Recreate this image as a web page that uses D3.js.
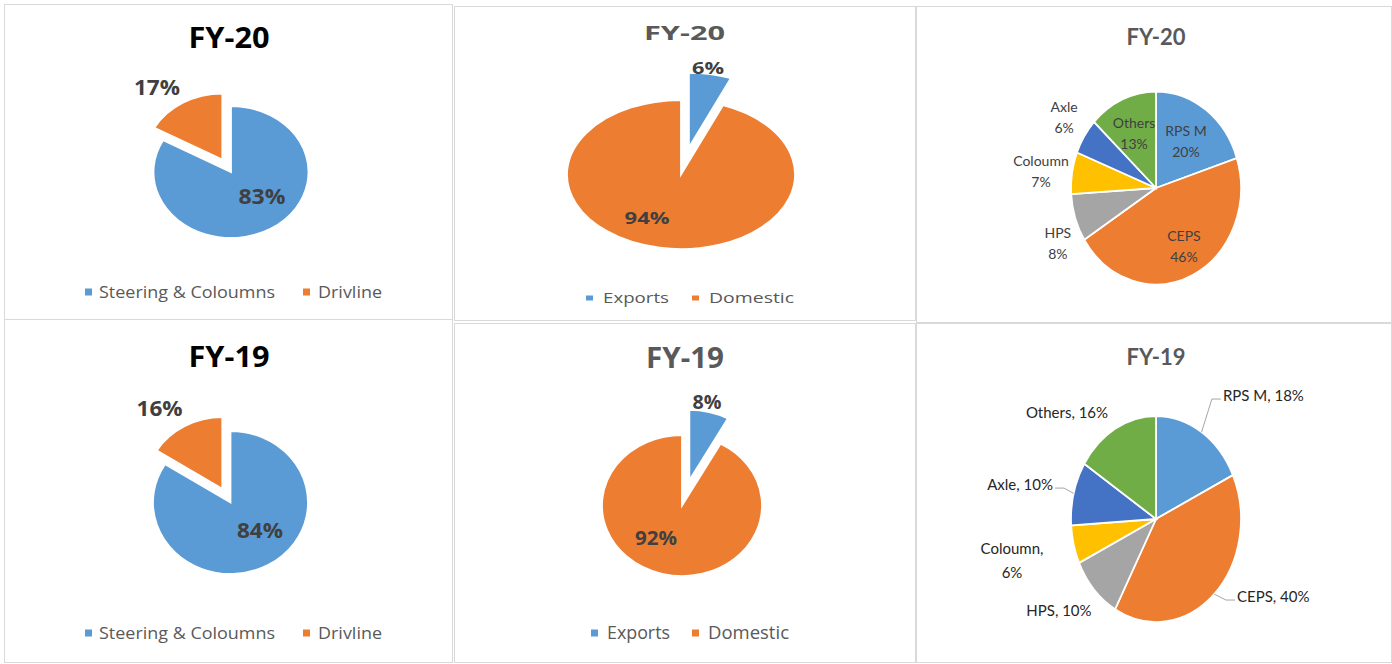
<!DOCTYPE html>
<html><head><meta charset="utf-8">
<script src="https://cdn.jsdelivr.net/npm/d3@7"></script>
<style>body{margin:0;background:#fff}</style>
</head><body>
<svg id="c" width="1392" height="664"></svg>
<script>
// ---------- DATA ----------
const titles = ["FY-20", "FY-19"];
const segmentCats = ["Steering & Coloumns", "Drivline"];
const segmentFY20 = [83, 17];
const segmentFY19 = [84, 16];
const marketCats = ["Exports", "Domestic"];
const marketFY20 = [6, 94];
const marketFY19 = [8, 92];
const productCats = ["RPS M", "CEPS", "HPS", "Coloumn", "Axle", "Others"];
const productFY20 = [20, 46, 8, 7, 6, 13];
const productFY19 = [18, 40, 10, 6, 10, 16];

// ---------- STYLE / LAYOUT ----------
const BLUE = "#5B9BD5", ORANGE = "#ED7D31", GRAY = "#A5A5A5", YELLOW = "#FFC000", DBLUE = "#4472C4", GREEN = "#70AD47";
const twoColors = [BLUE, ORANGE];
const sixColors = [BLUE, ORANGE, GRAY, YELLOW, DBLUE, GREEN];
const WIDE = "'Open Sans', 'DejaVu Sans', sans-serif";
const NARROW = "Lato, 'Liberation Sans', sans-serif";

const panels = [
  { box: [4, 4, 452, 319], title: titles[0], tx: 229, ty: 48, tsize: 28, tw: 81, tcolor: "#000", tfont: WIDE,
    cats: segmentCats, vals: segmentFY20, colors: twoColors, cx: 231, cy: 172, rx: 77.5, ry: 66, explode: [1], ef: 0.22,
    lfont: WIDE, lsize: 21, lweight: "bold", lcolor: "#404040", fmt: "pct",
    labels: [{ a: 133.5, r: 0.551, w: 47 }, { a: 323.1, r: 1.59, w: 46 }],
    legend: { y: 292, size: 17, sq: [7, 7], items: [{ sx: 85, tx: 99, tw: 176 }, { sx: 303, tx: 318, tw: 64 }] } },
  { box: [454, 6, 915, 320], title: titles[0], tx: 684.5, ty: 40, tsize: 20, tw: 81, tcolor: "#595959", tfont: WIDE,
    cats: marketCats, vals: marketFY20, colors: twoColors, cx: 681, cy: 174.5, rx: 114, ry: 74.5, explode: [0], ef: 0.37,
    lfont: WIDE, lsize: 16.5, lweight: "bold", lcolor: "#404040", fmt: "pct",
    labels: [{ a: 9.4, r: 1.45, w: 32 }, { a: 207, r: 0.656, w: 45 }],
    legend: { y: 298, size: 15, sq: [7, 5], items: [{ sx: 586, tx: 603, tw: 66 }, { sx: 692, tx: 709, tw: 85 }] } },
  { box: [916, 6, 1391, 322], title: titles[0], tx: 1156, ty: 45, tsize: 22, tcolor: "#595959", tfont: NARROW,
    cats: productCats, vals: productFY20, colors: sixColors, cx: 1156, cy: 188, rx: 85, ry: 96.5, explode: [], ef: 0,
    lfont: NARROW, lsize: 14, lweight: "normal", lcolor: "#404040", fmt: "two", gap: 21,
    labels: [{ a: 36.2, r: 0.597 }, { a: 151.5, r: 0.69 }, { a: 243.5, r: 1.29 }, { a: 277.2, r: 1.364 }, { a: 304.1, r: 1.306 }, { a: 335.2, r: 0.617 }] },
  { box: [4, 319, 452, 662], title: titles[1], tx: 229, ty: 367, tsize: 28, tw: 81, tcolor: "#000", tfont: WIDE,
    cats: segmentCats, vals: segmentFY19, colors: twoColors, cx: 230.5, cy: 502.5, rx: 77.5, ry: 71.5, explode: [1], ef: 0.22,
    lfont: WIDE, lsize: 21, lweight: "bold", lcolor: "#404040", fmt: "pct",
    labels: [{ a: 136.5, r: 0.552, w: 46 }, { a: 325.1, r: 1.60, w: 46 }],
    legend: { y: 633, size: 17, sq: [7, 7], items: [{ sx: 85, tx: 99, tw: 176 }, { sx: 303, tx: 318, tw: 64 }] } },
  { box: [454, 323, 915, 662], title: titles[1], tx: 685, ty: 368, tsize: 28, tw: 78, tcolor: "#595959", tfont: WIDE,
    cats: marketCats, vals: marketFY19, colors: twoColors, cx: 682, cy: 505.5, rx: 80, ry: 70.5, explode: [0], ef: 0.37,
    lfont: WIDE, lsize: 19, lweight: "bold", lcolor: "#404040", fmt: "pct",
    labels: [{ a: 12, r: 1.50, w: 29 }, { a: 215.2, r: 0.564, w: 42 }],
    legend: { y: 633, size: 18, sq: [7, 7], items: [{ sx: 591, tx: 607, tw: 63 }, { sx: 692, tx: 708, tw: 81 }] } },
  { box: [916, 323, 1391, 662], title: titles[1], tx: 1156, ty: 365, tsize: 22, tcolor: "#595959", tfont: NARROW,
    cats: productCats, vals: productFY19, colors: sixColors, cx: 1156, cy: 519, rx: 85, ry: 103, explode: [], ef: 0,
    lfont: NARROW, lsize: 15, lweight: "normal", lcolor: "#262626", fmt: "comma", gap: 24,
    labels: [{ a: 33.4, r: 1.43, anchor: "start", leader: true },
             { a: 128.5, r: 1.217, anchor: "start", leader: true },
             { a: 232, r: 1.449 },
             { a: 256.5, r: 1.742, wrap: true },
             { a: 285.2, r: 1.256, anchor: "end", leader: true },
             { a: 314.5, r: 1.468 }] }
];

const svg = d3.select("#c");
const R = 100;
const arcGen = d3.arc().innerRadius(0).outerRadius(R);
const pieGen = d3.pie().sort(null).value(d => d);
const rad = a => a * Math.PI / 180;

panels.forEach(p => {
  const g = svg.append("g");
  const [x0, y0, x1, y1] = p.box;
  g.append("rect").attr("x", x0 + 0.5).attr("y", y0 + 0.5).attr("width", x1 - x0).attr("height", y1 - y0)
    .attr("fill", "#fff").attr("stroke", "#D9D9D9").attr("stroke-width", 1);

  // title
  const t = g.append("text").attr("x", p.tx).attr("y", p.ty).attr("text-anchor", "middle")
    .attr("font-family", p.tfont).attr("font-size", p.tsize).attr("font-weight", "bold")
    .attr("fill", p.tcolor).text(p.title);
  if (p.tw) t.attr("textLength", p.tw).attr("lengthAdjust", "spacingAndGlyphs");

  // pie
  const arcs = pieGen(p.vals);
  const pg = g.append("g").attr("transform", `translate(${p.cx},${p.cy}) scale(${p.rx / R},${p.ry / R})`);
  pg.selectAll("path").data(arcs).join("path")
    .attr("d", arcGen)
    .attr("fill", (d, i) => p.colors[i])
    .attr("stroke", "#fff").attr("stroke-width", 1.8).attr("vector-effect", "non-scaling-stroke")
    .attr("transform", (d, i) => {
      if (!p.explode.includes(i)) return null;
      const m = (d.startAngle + d.endAngle) / 2;
      return `translate(${Math.sin(m) * p.ef * R},${-Math.cos(m) * p.ef * R})`;
    });

  const pos = (a, r) => [p.cx + Math.sin(rad(a)) * r * p.rx, p.cy - Math.cos(rad(a)) * r * p.ry];

  // labels
  arcs.forEach((d, i) => {
    const L = p.labels[i];
    const [lx, ly] = pos(L.a, L.r);
    const pct = p.vals[i] + "%";
    let lines;
    if (p.fmt === "pct") lines = [pct];
    else if (p.fmt === "two") lines = [p.cats[i], pct];
    else lines = L.wrap ? [p.cats[i] + ",", pct] : [p.cats[i] + ", " + pct];
    const anchor = L.anchor || "middle";
    const gap = p.gap || 0;
    lines.forEach((s, k) => {
      const off = (k - (lines.length - 1) / 2) * gap;
      const tt = g.append("text").attr("x", lx).attr("y", ly + off + 0.35 * p.lsize)
        .attr("text-anchor", anchor).attr("font-family", p.lfont).attr("font-size", p.lsize)
        .attr("font-weight", p.lweight).attr("fill", p.lcolor).text(s);
      if (L.w) tt.attr("textLength", L.w).attr("lengthAdjust", "spacingAndGlyphs");
    });
    if (L.leader) {
      const m = (d.startAngle + d.endAngle) / 2;
      const ex = p.cx + Math.sin(m) * p.rx, ey = p.cy - Math.cos(m) * p.ry;
      const dir = anchor === "start" ? -1 : 1;
      const ly2 = ly + 3;
      g.append("path")
        .attr("d", d3.line()([[ex, ey], [lx + dir * 11, ly2], [lx + dir * 2, ly2]]))
        .attr("fill", "none").attr("stroke", "#A6A6A6").attr("stroke-width", 1);
    }
  });

  // legend
  if (p.legend) {
    const lg = p.legend;
    lg.items.forEach((it, i) => {
      g.append("rect").attr("x", it.sx).attr("y", lg.y - lg.sq[1] / 2).attr("width", lg.sq[0]).attr("height", lg.sq[1])
        .attr("fill", p.colors[i]);
      g.append("text").attr("x", it.tx).attr("y", lg.y + 0.36 * lg.size)
        .attr("font-family", WIDE).attr("font-size", lg.size).attr("fill", "#595959")
        .attr("textLength", it.tw).attr("lengthAdjust", "spacingAndGlyphs")
        .text(p.cats[i]);
    });
  }
});
</script>
</body></html>
